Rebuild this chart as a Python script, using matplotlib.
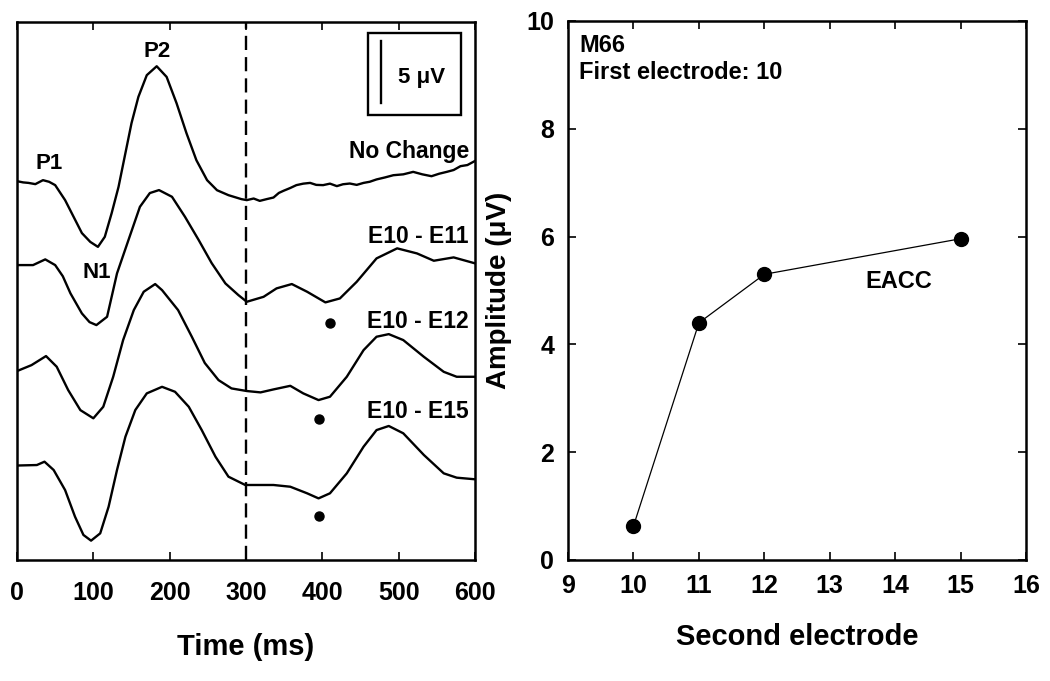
import numpy as np
import matplotlib.pyplot as plt

plt.rcParams['font.family'] = ['Liberation Sans', 'DejaVu Sans']
plt.rcParams['font.weight'] = 'bold'

# ---- left panel: waveforms, amplitude (uV) relative to each trace's own baseline
t_nochange = [0, 8, 15, 24, 34, 42, 50, 63, 74, 85, 96, 106, 115, 124, 133, 141, 150, 159, 170,
              183, 196, 209, 222, 235, 249, 262, 277, 294, 301, 310, 318, 327, 336, 343, 349,
              358, 366, 375, 384, 392, 401, 410, 419, 427, 436, 445, 454, 462, 471, 482, 493,
              506, 519, 531, 543, 553, 563, 572, 581, 590, 600]
v_nochange = [0.0, -0.1, -0.14, -0.24, 0.08, -0.05, -0.32, -1.53, -2.86, -4.19, -4.9, -5.3,
              -4.49, -2.58, -0.46, 1.96, 4.68, 6.8, 8.55, 9.27, 8.41, 6.29, 3.87, 1.69, 0.08,
              -0.73, -1.13, -1.45, -1.53, -1.4, -1.59, -1.45, -1.32, -0.95, -0.78, -0.55, -0.32,
              -0.2, -0.14, -0.3, -0.32, -0.2, -0.4, -0.25, -0.19, -0.3, -0.14, -0.05, 0.14,
              0.3, 0.48, 0.55, 0.75, 0.55, 0.4, 0.6, 0.75, 0.9, 1.21, 1.3, 1.63]

t_e11 = [0, 21, 37, 50, 60, 70, 85, 95, 104, 118, 131, 146, 161, 174, 186, 203, 220, 238, 255,
         273, 290, 301, 323, 340, 360, 380, 404, 423, 445, 471, 498, 524, 546, 572, 600]
v_e11 = [0.0, 0.0, 0.46, 0.0, -0.9, -2.28, -3.9, -4.6, -4.84, -4.17, -0.67, 2.02, 4.7, 5.81,
         6.05, 5.51, 3.9, 2.02, 0.16, -1.48, -2.42, -2.96, -2.56, -1.88, -1.53, -2.15, -3.01,
         -2.69, -1.35, 0.54, 1.35, 0.94, 0.35, 0.62, 0.14]

t_e12 = [0, 19, 38, 52, 67, 83, 100, 113, 126, 139, 153, 166, 181, 190, 211, 229, 246, 264,
         281, 301, 319, 336, 358, 375, 395, 410, 432, 454, 471, 487, 506, 533, 559, 576, 600]
v_e12 = [0.0, 0.48, 1.21, 0.35, -1.53, -3.15, -3.81, -2.88, -0.46, 2.5, 4.92, 6.4, 7.02, 6.53,
         4.92, 2.77, 0.65, -0.73, -1.4, -1.61, -1.72, -1.48, -1.19, -1.8, -2.34, -2.07, -0.46,
         1.69, 2.77, 2.98, 2.5, 1.15, -0.06, -0.46, -0.46]

t_e15 = [0, 26, 36, 48, 63, 76, 87, 97, 109, 120, 131, 142, 155, 170, 190, 207, 225, 242, 260,
         277, 299, 336, 358, 380, 395, 410, 432, 454, 471, 487, 506, 533, 559, 576, 600]
v_e15 = [0.0, 0.04, 0.31, -0.36, -1.98, -4.13, -5.6, -6.06, -5.47, -3.32, -0.36, 2.32, 4.48,
         5.82, 6.35, 5.95, 4.74, 2.86, 0.71, -0.9, -1.57, -1.57, -1.71, -2.24, -2.65, -2.24,
         -0.63, 1.52, 2.86, 3.19, 2.6, 0.85, -0.63, -0.98, -1.11]

trace_names = ['No Change', 'E10 - E11', 'E10 - E12', 'E10 - E15']
# dots under the N2 trough (time, amplitude relative to baseline of traces 2-4)
dot_t = [410, 395, 395]
dot_v = [-4.65, -3.9, -4.05]

# ---- right panel
second_electrode = [10, 11, 12, 15]
eacc_amp = [0.63, 4.4, 5.3, 5.96]

fig = plt.figure(figsize=(10.5, 6.81), dpi=100)
ax1 = fig.add_axes([0.0162, 0.1777, 0.4362, 0.79])
ax2 = fig.add_axes([0.541, 0.1777, 0.4362, 0.7915])

offsets = [30.56, 23.79, 15.24, 7.62]
traces = [(t_nochange, v_nochange), (t_e11, v_e11), (t_e12, v_e12), (t_e15, v_e15)]
for (t, v), off in zip(traces, offsets):
    ax1.plot(t, np.array(v) + off, color='black', lw=1.7, solid_joinstyle='round')

for t, v, off in zip(dot_t, dot_v, offsets[1:]):
    ax1.plot(t, v + off, 'o', color='black', ms=6.5)

ax1.axvline(300, color='black', lw=1.7, ls=(0, (6, 3)))

label_y = [32.98, 26.1, 19.2, 11.95]
for name, y in zip(trace_names, label_y):
    ax1.text(592, y, name, ha='right', va='center', fontsize=16.5, fontweight='bold')

ax1.text(42, 32.0, 'P1', ha='center', va='center', fontsize=16, fontweight='bold')
ax1.text(104, 23.2, 'N1', ha='center', va='center', fontsize=16, fontweight='bold')
ax1.text(183, 41.0, 'P2', ha='center', va='center', fontsize=16, fontweight='bold')

# 5 uV scale bar in a box
ax1.add_patch(plt.Rectangle((460, 35.9), 121, 6.6, fill=False, lw=1.7, color='black'))
ax1.plot([477, 477], [36.85, 41.85], color='black', lw=1.7)
ax1.text(530, 38.95, '5 μV', ha='center', va='center', fontsize=16, fontweight='bold')

ax1.set_xlim(0, 600)
ax1.set_ylim(0, 43.4)
ax1.set_xticks(range(0, 601, 100))
ax1.set_yticks([])
ax1.tick_params(axis='x', direction='in', top=True, length=6, width=1.2, labelsize=18, pad=15)
ax1.set_xlabel('Time (ms)', fontsize=21, fontweight='bold', labelpad=20)

ax2.plot(second_electrode, eacc_amp, color='black', lw=0.9, marker='o', ms=10)
ax2.set_xlim(9, 16)
ax2.set_ylim(0, 10)
ax2.set_xticks(range(9, 17))
ax2.set_yticks(range(0, 11, 2))
ax2.tick_params(direction='in', top=True, right=True, length=6, width=1.2, labelsize=18, pad=10)
ax2.set_xlabel('Second electrode', fontsize=21, fontweight='bold', labelpad=18)
ax2.set_ylabel('Amplitude (μV)', fontsize=20, fontweight='bold', labelpad=10)
ax2.text(0.024, 0.955, 'M66', transform=ax2.transAxes, fontsize=17, fontweight='bold', va='center')
ax2.text(0.024, 0.905, 'First electrode: 10', transform=ax2.transAxes, fontsize=17,
         fontweight='bold', va='center')
ax2.text(13.54, 5.16, 'EACC', fontsize=17, fontweight='bold', va='center')

for ax in (ax1, ax2):
    for s in ax.spines.values():
        s.set_linewidth(1.8)

fig.savefig('out.png', dpi=100)
